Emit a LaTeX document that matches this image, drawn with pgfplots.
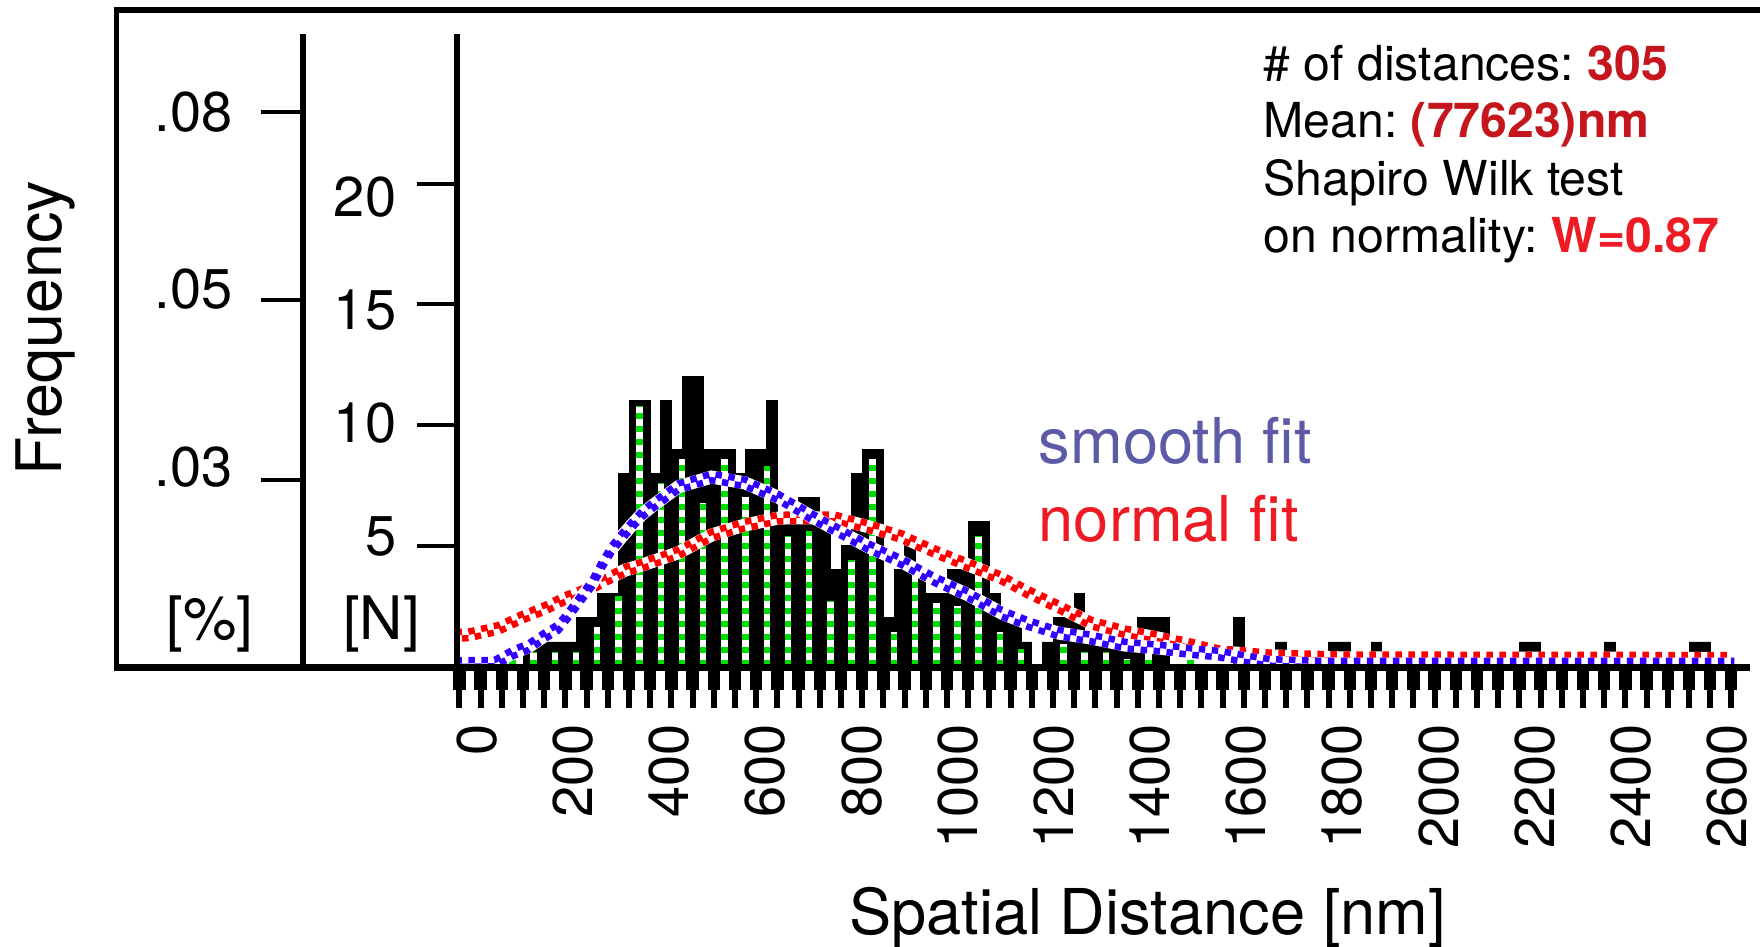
\documentclass[border=0pt]{standalone}
\usepackage{fontspec}
\setmainfont{TeX Gyre Heros}
\usepackage{pgfplots}
\usepackage{pgfplotstable}
\pgfplotsset{compat=1.18}
\definecolor{fitblue}{HTML}{3300FF}
\definecolor{fitred}{HTML}{FF0000}
\definecolor{dotgreen}{HTML}{00DD00}
\definecolor{labblue}{HTML}{5B5BA8}
\definecolor{labred}{HTML}{ED1C24}
\definecolor{statred}{HTML}{C4161C}

% histogram counts, half-bin resolution (x in nm)
\pgfplotstableread{
x n
106.7 1
128.75 1
150.8 1
172.85 1
194.9 1
216.95 2
239 2
261.05 3
283.1 3
305.15 8
327.2 11
349.25 11
371.3 8
393.35 11
415.4 9
437.45 12
459.5 12
481.55 9
503.6 9
525.65 9
547.7 8
569.75 9
591.8 9
613.85 11
635.9 6
657.95 6
680 7
702.05 7
724.1 6
746.15 4
768.2 5
790.25 8
812.3 9
834.35 9
856.4 2
878.45 4
900.5 5
922.55 4
944.6 3
966.65 3
988.7 4
1010.75 4
1032.8 6
1054.85 6
1076.9 3
1098.95 2
1121 2
1143.05 1
1187.15 1
1209.2 2
1231.25 2
1253.3 3
1275.35 1
1297.4 1
1319.45 1
1341.5 1
1363.55 1
1385.6 2
1407.65 2
1429.7 2
1584.05 2
1672.25 1
1782.5 1
1804.55 1
1870.7 1
2179.4 1
2201.45 1
2355.8 1
2532.2 1
2554.25 1
}\histtab

% dotted inner columns of the bars
\pgfplotstableread{
x h
73.58 0.3
117.67 0.6
161.76 0.6
205.85 0.6
249.94 1.6
294.03 2.9
338.12 10.8
382.21 7.6
426.3 8.6
470.39 6.75
514.48 8.6
558.57 7.0
602.66 8.3
646.75 5.4
690.84 5.6
734.93 2.7
779.02 4.4
823.11 8.6
867.2 1.4
911.29 3.8
955.38 2.6
999.47 2.5
1043.56 5.4
1087.65 1.4
1131.74 0.7
1219.92 0.9
1264.01 0.6
1308.1 0.6
1352.19 0.3
1396.28 0.6
1484.46 0.3
}\dottab

% normal fit
\pgfplotstableread{
x y
-45 1.28
-18 1.29
44 1.56
96 2.04
141 2.39
183 2.8
228 3.15
266 3.57
308 3.98
343 4.19
419 4.7
488 5.44
557 5.85
627 6.14
696 6.15
745 6.14
814 5.78
883 5.37
953 4.74
1022 4.19
1091 3.65
1144 3.08
1209 2.46
1278 1.78
1348 1.42
1417 1.16
1486 0.87
1542 0.6
1650 0.42
1800 0.34
2610 0.32
}\normtab

% smooth fit
\pgfplotstableread{
x y
-45 0.1
37 0.12
75 0.55
107 0.8
138 1.22
169 1.6
193 2.2
214 2.75
240 3.45
260 4.2
280 4.85
301 5.37
322 5.85
343 6.3
367 6.68
419 7.44
488 7.84
557 7.6
627 7.0
696 6.2
752 5.6
814 4.95
883 4.33
953 3.57
1022 2.95
1091 2.2
1145 1.77
1209 1.37
1278 1.16
1348 0.87
1417 0.75
1486 0.6
1542 0.5
1600 0.3
1650 0.15
1750 0.08
2615 0.08
}\smoothtab

\begin{document}
\frenchspacing
\begin{tikzpicture}
\path[use as bounding box] (0,0) rectangle (440pt,236.5pt);

% outer frame
\draw[line width=1.4pt] (29.125pt,69.625pt) -- (29.125pt,234pt) -- (445pt,234pt);
\draw[line width=1.7pt] (28.4pt,69.625pt) -- (115pt,69.625pt);

% [%] scale
\begin{axis}[
  at={(75.75pt,69.625pt)}, anchor=south west,
  scale only axis, width=2pt, height=158.375pt,
  xmin=0, xmax=1, ymin=-0.06, ymax=26.22,
  axis x line=none, axis y line*=left,
  axis line style={-, line width=1.3pt},
  tick align=outside, major tick length=10.4pt,
  tick style={black}, y tick style={line width=1pt},
  ytick={7.7,15.2,22.98},
  yticklabels={\raisebox{3.4pt}[\height][\depth]{.03},\raisebox{2.6pt}[\height][\depth]{.05},.08},
  yticklabel style={inner sep=0pt, font=\fontsize{14}{14}\selectfont},
  yticklabel shift=7pt,
]
\addplot[draw=none] coordinates {(0,0)};
\end{axis}

% main histogram axis, [N] scale
\begin{axis}[
  at={(114.25pt,69.625pt)}, anchor=south west,
  scale only axis, width=323.25pt, height=158.375pt,
  xmin=-41.6, xmax=2647.7, ymin=-0.06, ymax=26.22,
  axis x line*=bottom, axis y line*=left,
  axis line style={-, line width=1.6pt},
  axis on top,
  tick align=outside, major tick length=10pt, minor tick length=5.6pt,
  tick style={black},
  xtick={0,200,...,2600},
  xticklabels={0,200,400,600,800,1000,1200,1400,1600,1800,2000,2200,2400,2600},
  major x tick style={draw=none},
  minor xtick={-36.6,7.49,...,2610},
  minor x tick style={line width=3.1pt},
  extra x ticks={-36.6,7.49,...,2610},
  extra x tick labels={},
  extra x tick style={major x tick style={draw=black, line width=1.5pt}},
  xticklabel style={rotate=90, anchor=east, inner sep=0pt, font=\fontsize{14}{14}\selectfont},
  xticklabel shift=3.9pt,
  ytick={5,10,15,20},
  yticklabels={\raisebox{2.25pt}[\height][\depth]{5},\raisebox{0.4pt}[\height][\depth]{10},\raisebox{-1.5pt}[\height][\depth]{15},\raisebox{-3.4pt}[\height][\depth]{20}},
  y tick style={line width=1pt},
  yticklabel style={inner sep=0pt, font=\fontsize{14}{14}\selectfont},
  yticklabel shift=5pt,
]
\addplot[ybar, bar width=22.05, fill=black, draw=black, line width=0.2pt] table[x=x, y=n] {\histtab};
\addplot[ycomb, white, line width=1.625pt] table[x=x, y=h] {\dottab};
\addplot[ycomb, dotgreen, line width=1.625pt, dash pattern=on 1.625pt off 1.625pt] table[x=x, y=h] {\dottab};

% normal fit: checkered red band
\addplot[white, line width=3.25pt] table[x=x, y=y] {\normtab};
\addplot[fitred, line width=1.625pt, dash pattern=on 1.625pt off 1.625pt, yshift=0.8125pt] table[x=x, y=y] {\normtab};
\addplot[fitred, line width=1.625pt, dash pattern=on 1.625pt off 1.625pt, dash phase=1.625pt, yshift=-0.8125pt] table[x=x, y=y] {\normtab};

% smooth fit: checkered blue band
\addplot[white, line width=3.25pt] table[x=x, y=y] {\smoothtab};
\addplot[fitblue, line width=1.625pt, dash pattern=on 1.625pt off 1.625pt, yshift=0.8125pt] table[x=x, y=y] {\smoothtab};
\addplot[fitblue, line width=1.625pt, dash pattern=on 1.625pt off 1.625pt, dash phase=1.625pt, yshift=-0.8125pt] table[x=x, y=y] {\smoothtab};
\end{axis}

% labels
\node[rotate=90, font=\fontsize{15.7}{16}\selectfont] at (11.25pt,154.5pt) {Frequency};
\node[font=\fontsize{15}{15}\selectfont] at (52.5pt,80.5pt) {[\%]};
\node[font=\fontsize{15}{15}\selectfont] at (95.4pt,80.5pt) {[N]};
\node[anchor=base, font=\fontsize{15.8}{16}\selectfont] at (286.9pt,3pt) {Spatial Distance [nm]};

\node[anchor=base west, inner sep=0pt, text=labblue, font=\fontsize{15.8}{16}\selectfont] at (259.5pt,120.6pt) {smooth fit};
\node[anchor=base west, inner sep=0pt, text=labred, font=\fontsize{15.8}{16}\selectfont] at (259.5pt,101.25pt) {normal fit};

\node[anchor=base west, inner sep=0pt, font=\fontsize{12.05}{14}\selectfont] at (315.7pt,216.3pt) {\# of distances: {\bfseries\color{statred}305}};
\node[anchor=base west, inner sep=0pt, font=\fontsize{12.05}{14}\selectfont] at (315.7pt,202.25pt) {Mean: {\bfseries\color{statred}(77623)nm}};
\node[anchor=base west, inner sep=0pt, font=\fontsize{12.05}{14}\selectfont] at (315.7pt,187.7pt) {Shapiro Wilk test};
\node[anchor=base west, inner sep=0pt, font=\fontsize{12.05}{14}\selectfont] at (315.7pt,173.4pt) {on normality: {\bfseries\color{labred}W=0.87}};
\end{tikzpicture}
\end{document}
